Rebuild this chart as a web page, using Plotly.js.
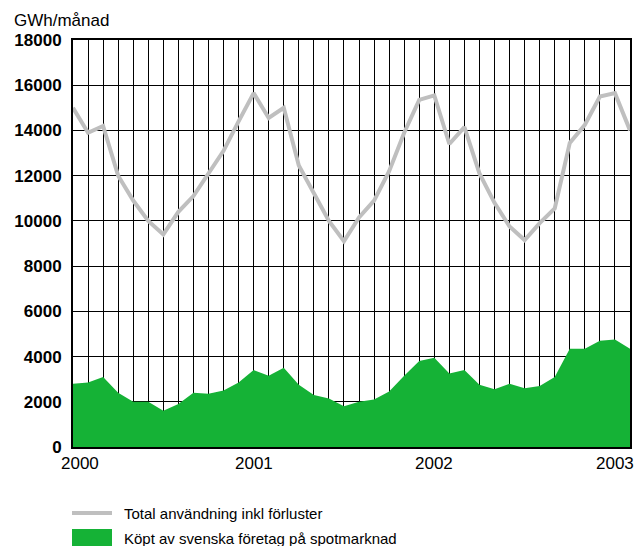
<!DOCTYPE html>
<html>
<head>
<meta charset="utf-8">
<script src="https://cdn.plot.ly/plotly-3.0.1.min.js"></script>
<style>
  html, body { margin: 0; padding: 0; background: #ffffff; }
  #chart { width: 643px; height: 546px; }
</style>
</head>
<body>
<div id="chart"></div>
<script>
// Months (Jan 2000 – Feb 2003)
const months = [
  '2000-01','2000-02','2000-03','2000-04','2000-05','2000-06','2000-07','2000-08','2000-09','2000-10','2000-11','2000-12',
  '2001-01','2001-02','2001-03','2001-04','2001-05','2001-06','2001-07','2001-08','2001-09','2001-10','2001-11','2001-12',
  '2002-01','2002-02','2002-03','2002-04','2002-05','2002-06','2002-07','2002-08','2002-09','2002-10','2002-11','2002-12',
  '2003-01','2003-02'
];

// Total användning inkl förluster (GWh/månad)
const totalUse = [
  15000, 13900, 14200, 12000, 10900, 10000, 9400, 10400, 11100, 12100, 13100, 14400,
  15650, 14550, 15000, 12450, 11200, 10000, 9100, 10150, 10900, 12200, 13900, 15350,
  15550, 13400, 14150, 12100, 10800, 9750, 9150, 9900, 10550, 13450, 14250, 15500,
  15650, 14000
];

// Köpt av svenska företag på spotmarknad (GWh/månad)
const spotBought = [
  2800, 2850, 3100, 2400, 2000, 2000, 1600, 1900, 2400, 2350, 2500, 2850,
  3400, 3150, 3500, 2750, 2300, 2150, 1800, 2000, 2100, 2450, 3150, 3800,
  3950, 3250, 3400, 2750, 2550, 2800, 2600, 2700, 3100, 4350, 4350, 4700,
  4750, 4350
];

const yearTickMonths = ['2000-01', '2001-01', '2002-01', '2003-01'];
const yearTickLabels = ['2000', '2001', '2002', '2003'];
const yTickVals = [0, 2000, 4000, 6000, 8000, 10000, 12000, 14000, 16000, 18000];
const yTickLabels = ['0', '2000', '4000', '6000', '8000', '10000', '12000', '14000', '16000', '18000'];

const unitLabel = 'GWh/månad';
const seriesNames = ['Total användning inkl förluster', 'Köpt av svenska företag på spotmarknad'];

const FONT = 'Liberation Sans, Arial, sans-serif';
const GREEN = '#15b236';
const GRAY = '#bfbfbf';

const traces = [
  {
    x: months, y: spotBought, type: 'scatter', mode: 'lines',
    fill: 'tozeroy', fillcolor: GREEN, line: { width: 0, color: GREEN },
    name: seriesNames[1], showlegend: false, hoverinfo: 'skip'
  },
  {
    x: months, y: totalUse, type: 'scatter', mode: 'lines',
    line: { width: 4, color: GRAY }, name: seriesNames[0],
    showlegend: false, hoverinfo: 'skip', cliponaxis: true
  }
];

// pixel helpers for paper positioning
const L = 73, R = 13, T = 40, B = 99, W = 643, H = 546;
const pw = W - L - R, ph = H - T - B;
const px = v => (v - L) / pw;
const py = v => (H - B - v) / ph;

const annotations = [
  { text: unitLabel, xref: 'paper', yref: 'paper', x: px(12), y: py(21), xanchor: 'left', yanchor: 'middle',
    showarrow: false, font: { family: FONT, size: 17, color: '#000' } },
  { text: seriesNames[0], xref: 'paper', yref: 'paper', x: px(122), y: py(513), xanchor: 'left', yanchor: 'middle',
    showarrow: false, font: { family: FONT, size: 15, color: '#000' } },
  { text: seriesNames[1], xref: 'paper', yref: 'paper', x: px(122), y: py(538), xanchor: 'left', yanchor: 'middle',
    showarrow: false, font: { family: FONT, size: 15, color: '#000' } }
];
yearTickMonths.forEach((m, i) => {
  annotations.push({
    text: yearTickLabels[i], xref: 'x', yref: 'paper', x: m, y: py(463),
    xanchor: 'center', yanchor: 'middle', xshift: i === 0 ? 7 : 0,
    showarrow: false, font: { family: FONT, size: 17, color: '#000' }
  });
});

const shapes = [
  { type: 'line', xref: 'paper', yref: 'paper', x0: px(72), x1: px(112), y0: py(513), y1: py(513),
    line: { color: GRAY, width: 4 } },
  { type: 'rect', xref: 'paper', yref: 'paper', x0: px(72), x1: px(112), y0: py(529), y1: py(547),
    fillcolor: GREEN, line: { width: 0 } }
];

const layout = {
  width: W, height: H,
  margin: { l: L, r: R, t: T, b: B, pad: 0 },
  paper_bgcolor: '#ffffff', plot_bgcolor: '#ffffff',
  showlegend: false,
  font: { family: FONT, size: 17, color: '#000' },
  xaxis: {
    type: 'category', categoryorder: 'array', categoryarray: months,
    range: [0, months.length - 1],
    tickmode: 'array', tickvals: months, ticktext: months.map(() => ''),
    showgrid: true, gridcolor: '#000', gridwidth: 1,
    showline: true, linecolor: '#000', linewidth: 2, mirror: true,
    ticks: '', zeroline: false, fixedrange: true
  },
  yaxis: {
    range: [0, 18000],
    tickmode: 'array', tickvals: yTickVals, ticktext: yTickLabels,
    tickfont: { family: FONT, size: 17, color: '#000', weight: 'bold' },
    showgrid: true, gridcolor: '#000', gridwidth: 1,
    showline: true, linecolor: '#000', linewidth: 2, mirror: true,
    ticks: '', ticklabelstandoff: 6, zeroline: false, fixedrange: true
  },
  annotations: annotations,
  shapes: shapes
};

Plotly.newPlot('chart', traces, layout, { staticPlot: true, displayModeBar: false });
</script>
</body>
</html>
